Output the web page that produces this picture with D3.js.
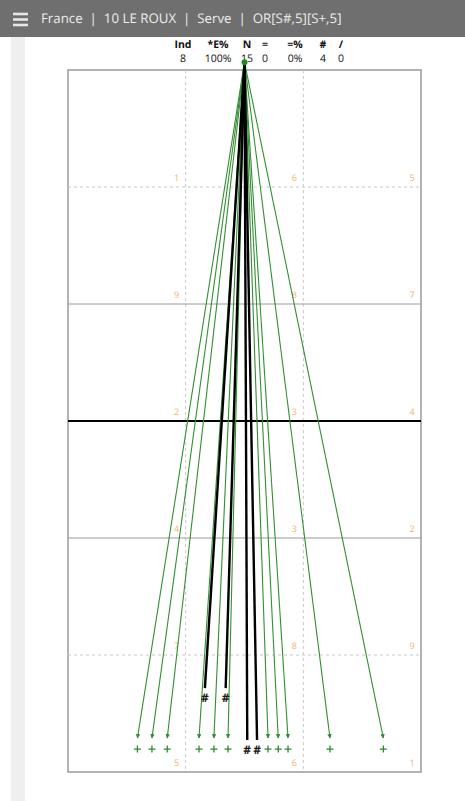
<!DOCTYPE html>
<html>
<head>
<meta charset="utf-8">
<script src="https://cdn.jsdelivr.net/npm/d3@7"></script>
<style>
  body{margin:0;background:#fff;font-family:"Open Sans",sans-serif;}
  text{text-rendering:geometricPrecision;}
</style>
</head>
<body>
<svg id="chart" width="465" height="801"></svg>
<script>
// header + stats
const titleParts = ["France", "10 LE ROUX", "Serve", "OR[S#,5][S+,5]"];
const statLabels = ["Ind", "*E%", "N", "=", "=%", "#", "/"];
const statValues = ["8", "100%", "15", "0", "0%", "4", "0"];

// zone numbers, row by row (top to bottom), left to right
const zoneRows = [
  ["1","6","5"],
  ["9","8","7"],
  ["2","3","4"],
  ["4","3","2"],
  ["7","8","9"],
  ["5","6","1"]
];

// serves, court metres (x 0..9, y 0..18 from top baseline)
const serveStart = [4.5, -0.2];
const endX   = [1.77, 2.14, 2.53, 3.34, 3.72, 4.08, 5.10, 5.36, 5.61, 6.68, 8.04, 3.49, 4.02, 4.57, 4.82];
const endY   = [17.13,17.13,17.13,17.13,17.13,17.13,17.13,17.13,17.13,17.13,17.13,15.85,15.85,17.18,17.18];
const result = ["+","+","+","+","+","+","+","+","+","+","+","#","#","#","#"];

const svg = d3.select("#chart");
const W = 465;

// top bar
svg.append("rect").attr("x",0).attr("y",0).attr("width",W).attr("height",37).attr("fill","#6f6f6f");
[14,19.5,25].forEach(y=>{
  svg.append("rect").attr("x",13).attr("y",y-1.3).attr("width",15).attr("height",2.6).attr("fill","#e6e6e6");
});
svg.append("text").attr("x",41).attr("y",23)
  .attr("fill","#ececec").attr("font-size",13.3)
  .attr("xml:space","preserve")
  .text(titleParts.join("  |  "));

// left side strip
svg.append("rect").attr("x",11).attr("y",37).attr("width",14).attr("height",801-37).attr("fill","#efefef");

// scales
const x = d3.scaleLinear().domain([0,9]).range([68,421]);
const y = d3.scaleLinear().domain([0,18]).range([70,772]);

// stats block
const statX = [183, 218, 247, 265, 295, 323, 341];
svg.append("g").selectAll("text").data(statLabels).join("text")
  .attr("x",(d,i)=>statX[i]).attr("y",48)
  .attr("text-anchor","middle").attr("font-size",10.5).attr("font-weight","bold")
  .attr("fill","#111").text(d=>d);
svg.append("g").selectAll("text").data(statValues).join("text")
  .attr("x",(d,i)=>statX[i]).attr("y",62)
  .attr("text-anchor","middle").attr("font-size",10.5)
  .attr("fill","#111").text(d=>d);

// court
const court = svg.append("g");
court.append("rect").attr("x",x(0)).attr("y",y(0)).attr("width",x(9)-x(0)).attr("height",y(18)-y(0))
  .attr("fill","#fff").attr("stroke","#9a9a9a").attr("stroke-width",1.5);

[3,6].forEach(v=>{
  court.append("line").attr("x1",x(v)).attr("x2",x(v)).attr("y1",y(0)).attr("y2",y(18))
    .attr("stroke","#c8c8c8").attr("stroke-dasharray","3,3");
});
[3,15].forEach(v=>{
  court.append("line").attr("x1",x(0)).attr("x2",x(9)).attr("y1",y(v)).attr("y2",y(v))
    .attr("stroke","#c8c8c8").attr("stroke-dasharray","3,3");
});
[6,12].forEach(v=>{
  court.append("line").attr("x1",x(0)).attr("x2",x(9)).attr("y1",y(v)).attr("y2",y(v))
    .attr("stroke","#9a9a9a").attr("stroke-width",1);
});
court.append("line").attr("x1",x(0)).attr("x2",x(9)).attr("y1",y(9)).attr("y2",y(9))
  .attr("stroke","#000").attr("stroke-width",2);

// zone labels
zoneRows.forEach((row,r)=>{
  row.forEach((lab,c)=>{
    court.append("text").attr("x",x((c+1)*3)-9).attr("y",y((r+1)*3)-6)
      .attr("text-anchor","middle").attr("font-size",9).attr("fill","#f0b372").text(lab);
  });
});

// arrow marker
const defs = svg.append("defs");
defs.append("marker").attr("id","arr").attr("viewBox","0 0 10 10")
  .attr("refX",9).attr("refY",5).attr("markerWidth",4).attr("markerHeight",4)
  .attr("orient","auto-start-reverse")
  .append("path").attr("d","M0,0L10,5L0,10z").attr("fill","#2f8a2f");

const serves = endX.map((ex,i)=>({x:ex,y:endY[i],r:result[i]}));

// green serves first, black on top
const green = "#338f33";
svg.append("g").selectAll("line").data(serves.filter(d=>d.r==="+")).join("line")
  .attr("x1",x(serveStart[0])).attr("y1",y(serveStart[1]))
  .attr("x2",d=>x(d.x)).attr("y2",d=>y(d.y))
  .attr("stroke",green).attr("stroke-width",1.1).attr("marker-end","url(#arr)");
svg.append("g").selectAll("line").data(serves.filter(d=>d.r==="#")).join("line")
  .attr("x1",x(serveStart[0])).attr("y1",y(serveStart[1]))
  .attr("x2",d=>x(d.x)).attr("y2",d=>y(d.y))
  .attr("stroke","#000").attr("stroke-width",2.4);

// result symbols: "+" drawn as crosses, "#" as text
svg.append("g").selectAll("path").data(serves.filter(d=>d.r==="+")).join("path")
  .attr("d","M-3.5,0H3.5M0,-3.5V3.5")
  .attr("transform",d=>`translate(${x(d.x)},${y(d.y)+11})`)
  .attr("stroke","#2f8a2f").attr("stroke-width",1.3).attr("fill","none");
svg.append("g").selectAll("text").data(serves.filter(d=>d.r==="#")).join("text")
  .attr("x",d=>x(d.x)).attr("y",d=>y(d.y)+14)
  .attr("text-anchor","middle").attr("font-size",12).attr("font-weight","bold")
  .attr("fill","#1a1a1a")
  .text(d=>d.r);

// origin dot
svg.append("rect").attr("x",x(serveStart[0])-1).attr("y",y(serveStart[1])).attr("width",2.5).attr("height",8).attr("fill","#000");
svg.append("circle").attr("cx",x(serveStart[0])).attr("cy",y(serveStart[1])).attr("r",3).attr("fill","#1f8a1f");
</script>
</body>
</html>
